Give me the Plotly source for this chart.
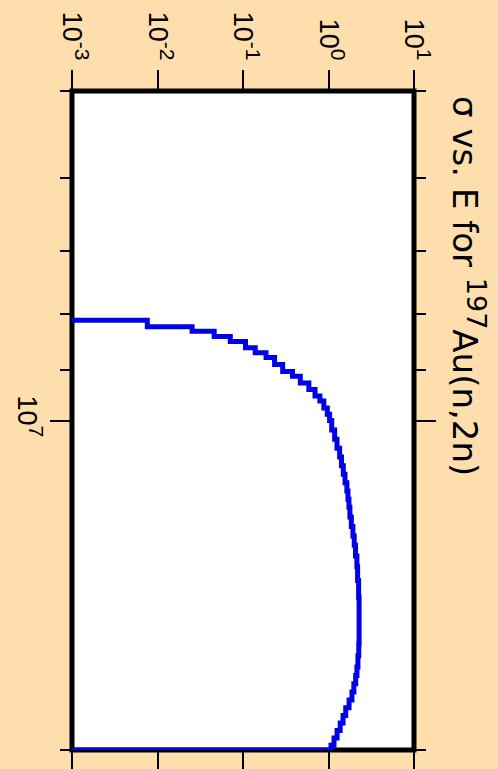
import plotly.graph_objects as go

# Energy group starts (MeV) and cross sections (barn)
energy_mev = [8.10, 8.21, 8.29, 8.38, 8.47, 8.58, 8.67, 8.76, 8.89, 9.02,
              9.11, 9.24, 9.37, 9.50, 9.60, 9.74, 9.87, 10.0, 10.2, 10.4,
              10.6, 10.8, 11.0, 11.2, 11.4, 11.6, 11.8, 12.0, 12.25, 12.5,
              12.75, 13.0, 13.3, 13.6, 14.0, 14.5, 15.0, 15.5, 16.0, 16.4,
              16.8, 17.1, 17.4, 17.7, 18.0, 18.3, 18.6, 18.9, 19.2, 19.5,
              19.8]
sigma_b = [0.0076, 0.0254, 0.046, 0.071, 0.107, 0.139, 0.186, 0.234, 0.291, 0.379,
           0.468, 0.589, 0.696, 0.794, 0.882, 0.968, 1.03, 1.09, 1.18, 1.257,
           1.35, 1.418, 1.49, 1.56, 1.64, 1.69, 1.735, 1.78, 1.85, 1.93,
           2.00, 2.07, 2.15, 2.19, 2.25, 2.28, 2.28, 2.28, 2.26, 2.21,
           2.15, 2.08, 1.98, 1.88, 1.74, 1.59, 1.48, 1.37, 1.26, 1.16,
           1.07]
energy_end_mev = 20.0
sigma_floor = 1e-3

sigma_ticks = [1e-3, 1e-2, 1e-1, 1e0, 1e1]
sigma_exponents = ["-3", "-2", "-1", "0", "1"]
energy_ticks = [1e7]
energy_exponents = ["7"]
energy_minor = [5e6, 6e6, 7e6, 8e6, 9e6, 2e7]

SUP = '10<sup><span style="font-size:21px">{}</span></sup>'
sigma_ticktext = [SUP.format(e) for e in sigma_exponents]
energy_ticktext = [SUP.format(e) for e in energy_exponents]
title_text = 'σ vs. E for <sup><span style="font-size:27px">197</span></sup>Au(n,2n)'

xs = [sigma_floor] + sigma_b + [sigma_floor]
ys = [energy_mev[0] * 1e6] + [e * 1e6 for e in energy_mev] + [energy_end_mev * 1e6]

FONT = "Liberation Sans, Arial, sans-serif"
TITLE_FONT = "DejaVu Sans, Liberation Sans, sans-serif"

fig = go.Figure()
fig.add_trace(go.Scatter(
    x=xs, y=ys, mode="lines", line=dict(color="rgb(0,0,235)", width=5, shape="vh"),
    showlegend=False, hoverinfo="skip"))

W, H = 498, 769
L, R, T, B = 65, 414, 91, 750

fig.update_layout(
    width=W, height=H,
    margin=dict(l=L, r=W - R, t=T, b=H - B, pad=0),
    paper_bgcolor="#FFDEAD",
    plot_bgcolor="white",
    font=dict(family=FONT, color="black"),
    xaxis=dict(
        type="log", range=[-3, 1], side="top",
        tickmode="array", tickvals=sigma_ticks, ticktext=sigma_ticktext,
        tickangle=90, ticks="outside", ticklen=20, tickwidth=2, tickcolor="black",
        mirror="allticks", showline=False, showgrid=False, zeroline=False,
        tickfont=dict(family=FONT, size=27, color="black"),
    ),
    yaxis=dict(
        type="log", range=[7.30103, 6.69897],
        tickmode="array", tickvals=energy_ticks, ticktext=energy_ticktext,
        tickangle=90, ticks="outside", ticklen=21, tickwidth=2, tickcolor="black",
        mirror="allticks", showline=False, showgrid=False, zeroline=False,
        tickfont=dict(family=FONT, size=27, color="black"),
        minor=dict(tickmode="array", tickvals=energy_minor, ticks="outside",
                   ticklen=11, tickwidth=2, tickcolor="black", showgrid=False),
    ),
    shapes=[dict(type="rect", xref="paper", yref="paper", x0=0, x1=1, y0=0, y1=1,
                 line=dict(color="black", width=5), layer="below")],
    annotations=[dict(
        text=title_text, textangle=90, showarrow=False,
        xref="paper", yref="paper",
        x=(470 - L) / (R - L), y=(B - 94) / (B - T),
        xanchor="center", yanchor="top",
        font=dict(family=TITLE_FONT, size=34, color="black"))],
)

fig.write_html("out.html", config={"displayModeBar": False},
               post_script="document.body.style.margin='0px';document.body.style.padding='0px';")
